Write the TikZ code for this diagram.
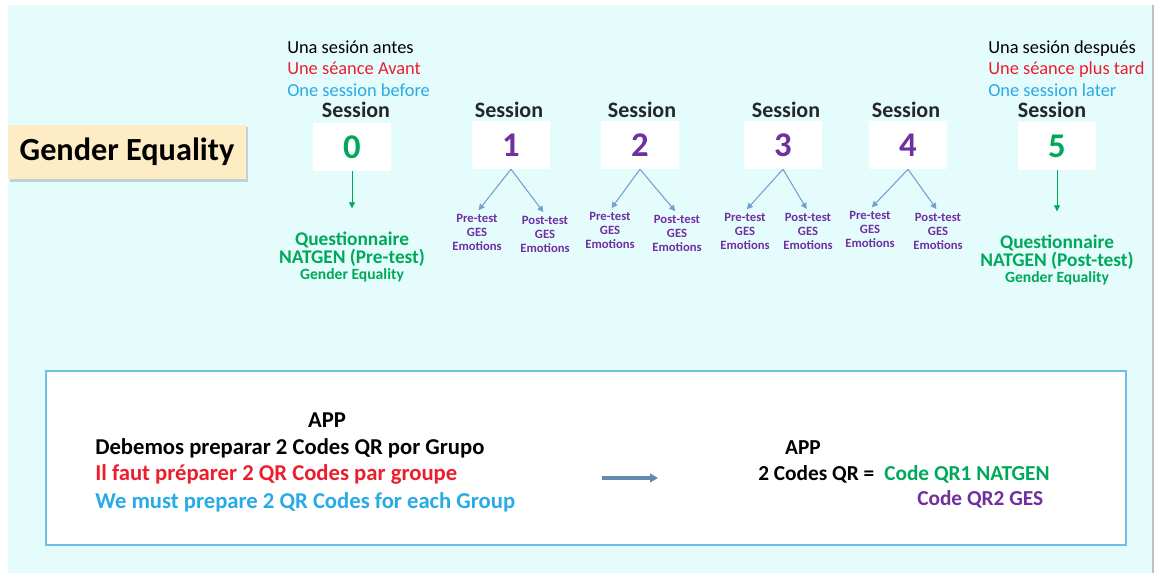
\documentclass[tikz,border=0pt]{standalone}
\usepackage{fontspec}
\setmainfont{Carlito}
\usetikzlibrary{positioning,arrows.meta,shadows}

\definecolor{bgcyan}{RGB}{229,252,253}
\definecolor{beige}{RGB}{253,236,196}
\definecolor{ppl}{RGB}{112,48,160}
\definecolor{grn}{RGB}{0,168,90}
\definecolor{redt}{RGB}{235,30,45}
\definecolor{bluet}{RGB}{40,170,230}
\definecolor{arrblue}{RGB}{115,160,205}
\definecolor{boxline}{RGB}{110,190,230}

\begin{document}
\begin{tikzpicture}[x=0.75pt, y=-0.75pt, >={Triangle[length=4.5pt,width=4.5pt]},
  sess/.style={font=\fontsize{16.5}{20}\selectfont\bfseries, text=black!85},
  numbox/.style={fill=white, minimum width=58pt, minimum height=36pt,
    font=\fontsize{26}{28}\selectfont\bfseries},
  toptxt/.style={anchor=west, inner sep=0pt, align=left,
    font=\fontsize{13.8}{16}\selectfont},
  quest/.style={align=center, text=grn, font=\bfseries},
  testtxt/.style={align=center, text=ppl, inner sep=1pt,
    font=\fontsize{9.5}{10.5}\selectfont\bfseries},
  branch/.style={->, arrblue, line width=0.8pt, shorten >=2pt},
  down/.style={->, grn, line width=0.6pt},
  apptxt/.style={inner sep=0pt, font=\fontsize{17}{21}\selectfont\bfseries},
  qrtxt/.style={inner sep=0pt, anchor=west, font=\fontsize{16}{21}\selectfont\bfseries}]
  % page and background
  \useasboundingbox (0,0) rectangle (1160,573);
  \fill[white] (0,0) rectangle (1160,573);
  \fill[bgcyan] (8,5) rectangle (1153,573);
  \draw[black!25, line width=1pt] (1153,5) -- (1153,573);

  % title
  \node[fill=beige, minimum width=178pt, minimum height=41pt,
        drop shadow={opacity=0.35, shadow xshift=1.5pt, shadow yshift=-2pt},
        font=\fontsize{24.2}{28}\selectfont\bfseries] (title) at (127,152) {Gender Equality};

  % session 0
  \node[toptxt] (before) at (287,68.5) {Una sesión antes\\
    \textcolor{redt}{Une séance Avant}\\ \textcolor{bluet}{One session before}};
  \node[sess] (lab0) at (356,110) {Session};
  \node[numbox, text=grn] (n0) at (352,147) {0};
  \node[quest, anchor=north] (q0) at (352,227) {{\fontsize{14.5}{18}\selectfont Questionnaire}\\
    {\fontsize{14.5}{19}\selectfont NATGEN (Pre-test)}\\ {\fontsize{11.7}{14}\selectfont Gender Equality}};
  \draw[down] (n0.south) -- ([yshift=14pt]q0.north);

  % sessions 1 to 4
  \node[sess] (lab1) at (509,110) {Session};
  \node[numbox, text=ppl] (n1) at (511,145) {1};
  \node[testtxt] (pre1) at (477,232) {Pre-test\\GES\\Emotions};
  \node[testtxt] (post1) at (545,234) {Post-test\\GES\\Emotions};
  \draw[branch] (n1.south) -- (pre1.north);
  \draw[branch] (n1.south) -- (post1.north);

  \node[sess] (lab2) at (642,110) {Session};
  \node[numbox, text=ppl] (n2) at (640,145) {2};
  \node[testtxt] (pre2) at (610,230) {Pre-test\\GES\\Emotions};
  \node[testtxt] (post2) at (677,233) {Post-test\\GES\\Emotions};
  \draw[branch] (n2.south) -- (pre2.north);
  \draw[branch] (n2.south) -- (post2.north);

  \node[sess] (lab3) at (786,110) {Session};
  \node[numbox, text=ppl] (n3) at (783,145) {3};
  \node[testtxt] (pre3) at (745,231) {Pre-test\\GES\\Emotions};
  \node[testtxt] (post3) at (808,231) {Post-test\\GES\\Emotions};
  \draw[branch] (n3.south) -- (pre3.north);
  \draw[branch] (n3.south) -- (post3.north);

  \node[sess] (lab4) at (906,110) {Session};
  \node[numbox, text=ppl] (n4) at (908,145) {4};
  \node[testtxt] (pre4) at (870,229) {Pre-test\\GES\\Emotions};
  \node[testtxt] (post4) at (938,231) {Post-test\\GES\\Emotions};
  \draw[branch] (n4.south) -- (pre4.north);
  \draw[branch] (n4.south) -- (post4.north);

  % session 5
  \node[toptxt] (after) at (988,68.5) {Una sesión después\\
    \textcolor{redt}{Une séance plus tard}\\ \textcolor{bluet}{One session later}};
  \node[sess] (lab5) at (1052,110) {Session};
  \node[numbox, text=grn] (n5) at (1057,146) {5};
  \node[quest, anchor=north] (q5) at (1057,230) {{\fontsize{14.5}{18}\selectfont Questionnaire}\\
    {\fontsize{14.5}{19}\selectfont NATGEN (Post-test)}\\ {\fontsize{11.7}{14}\selectfont Gender Equality}};
  \draw[down] (n5.south) -- ([yshift=14pt]q5.north);

  % QR codes box
  \draw[boxline, line width=1.5pt, fill=white] (46,371) rectangle (1126,545);
  \node[apptxt] (app1) at (327,420) {APP};
  \node[apptxt, anchor=west] (es) at (95,448) {Debemos preparar 2 Codes QR por Grupo};
  \node[apptxt, anchor=west, text=redt] (fr) at (95,474) {Il faut préparer 2 QR Codes par groupe};
  \node[apptxt, anchor=west, text=bluet] (en) at (95,502) {We must prepare 2 QR Codes for each Group};
  \coordinate (arrS) at (602,478);
  \coordinate (arrE) at (658,478);
  \draw[-{Triangle[length=6pt,width=6.5pt]}, arrblue!85!black, line width=3pt] (arrS) -- (arrE);
  \node[qrtxt, anchor=center] (app2) at (803,448) {APP};
  \node[qrtxt] (qr) at (758,474) {2 Codes QR =};
  \node[qrtxt, text=grn] (qr1) at (884,474) {Code QR1 NATGEN};
  \node[qrtxt, text=ppl] (qr2) at (917,499) {Code QR2 GES};
\end{tikzpicture}
\end{document}
